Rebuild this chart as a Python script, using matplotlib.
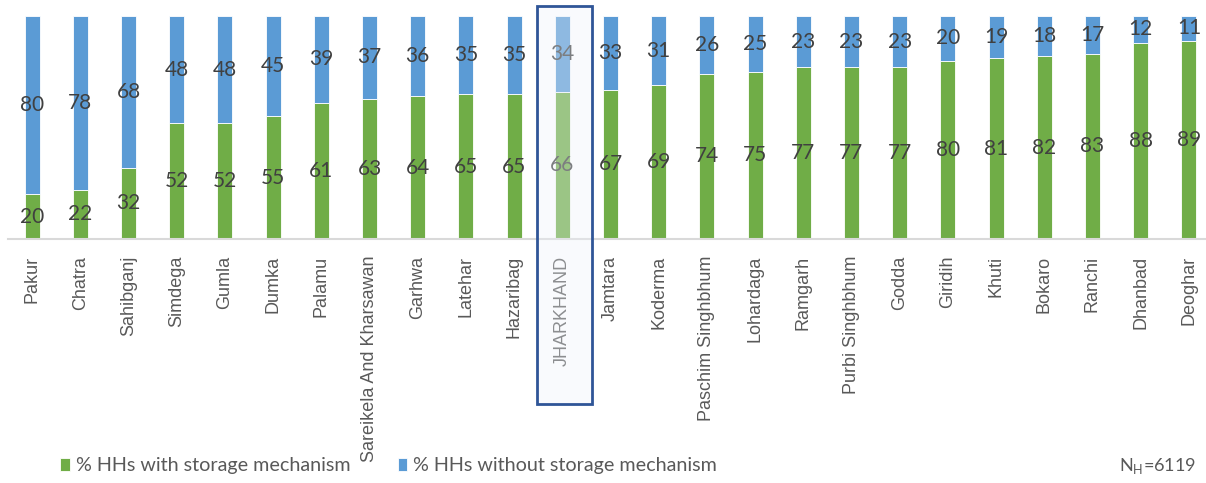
import matplotlib.pyplot as plt
from matplotlib.patches import Rectangle
import numpy as np

# district-wise share of households (%)
districts = ['Pakur', 'Chatra', 'Sahibganj', 'Simdega', 'Gumla', 'Dumka', 'Palamu',
             'Sareikela And Kharsawan', 'Garhwa', 'Latehar', 'Hazaribag', 'JHARKHAND',
             'Jamtara', 'Koderma', 'Paschim Singhbhum', 'Lohardaga', 'Ramgarh',
             'Purbi Singhbhum', 'Godda', 'Giridih', 'Khuti', 'Bokaro', 'Ranchi',
             'Dhanbad', 'Deoghar']
with_storage = [20, 22, 32, 52, 52, 55, 61, 63, 64, 65, 65, 66, 67, 69, 74, 75,
                77, 77, 77, 80, 81, 82, 83, 88, 89]
without_storage = [80, 78, 68, 48, 48, 45, 39, 37, 36, 35, 35, 34, 33, 31, 26, 25,
                   23, 23, 23, 20, 19, 18, 17, 12, 11]
sample_size = 6119

green = '#70AD47'
blue = '#5B9BD5'
label_col = '#404040'
tick_col = '#595959'

W, H = 1206, 483
fig = plt.figure(figsize=(W / 100, H / 100), dpi=100)
ax = fig.add_axes([8 / W, 1 - 239 / H, 1 - 8 / W, (239 - 16) / H])

x = np.arange(len(districts))
b1 = ax.bar(x, with_storage, width=0.31, color=green, edgecolor='white', linewidth=0.6,
            label='% HHs with storage mechanism')
b2 = ax.bar(x, without_storage, width=0.31, bottom=with_storage, color=blue,
            edgecolor='white', linewidth=0.6, label='% HHs without storage mechanism')

ax.bar_label(b1, label_type='center', fontsize=15, color=label_col, family='Lato')
ax.bar_label(b2, label_type='center', fontsize=15, color=label_col, family='Lato')

ax.set_xlim(-0.5, -0.5 + (W - 8) / 48.2)
ax.set_ylim(0, 100)
ax.set_yticks([])
ax.set_xticks(x)
ax.set_xticklabels(districts, rotation=90, fontsize=13, color=tick_col,
                   family='Liberation Sans')
ax.tick_params(axis='x', length=0, pad=12)
for s in ['top', 'left', 'right']:
    ax.spines[s].set_visible(False)
ax.spines['bottom'].set_color('#D9D9D9')
ax.spines['bottom'].set_linewidth(1.5)

# highlight box around the state average
box = Rectangle((537 / W, 1 - 404 / H), 55 / W, 398 / H, transform=fig.transFigure,
                facecolor='#EEF2FA', alpha=0.35, edgecolor='none', zorder=10)
fig.patches.append(box)
frame = Rectangle((537 / W, 1 - 404 / H), 55 / W, 398 / H, transform=fig.transFigure,
                  facecolor='none', edgecolor='#2F5597', linewidth=2, zorder=11)
fig.patches.append(frame)

fig.legend(handles=[b1, b2], loc='center left', bbox_to_anchor=(52 / W, 1 - 466 / H),
           ncol=2, frameon=False, handlelength=0.5, handleheight=0.6,
           handletextpad=0.3, columnspacing=2.4, borderaxespad=0,
           prop={'family': 'Lato', 'size': 14.2}, labelcolor=tick_col)

fig.text(1196 / W, 1 - 466 / H, 'N$_\\mathregular{H}$=%d' % sample_size, ha='right',
         va='center', fontsize=13, color=tick_col, family='Lato')

fig.savefig('out.png', dpi=100)
